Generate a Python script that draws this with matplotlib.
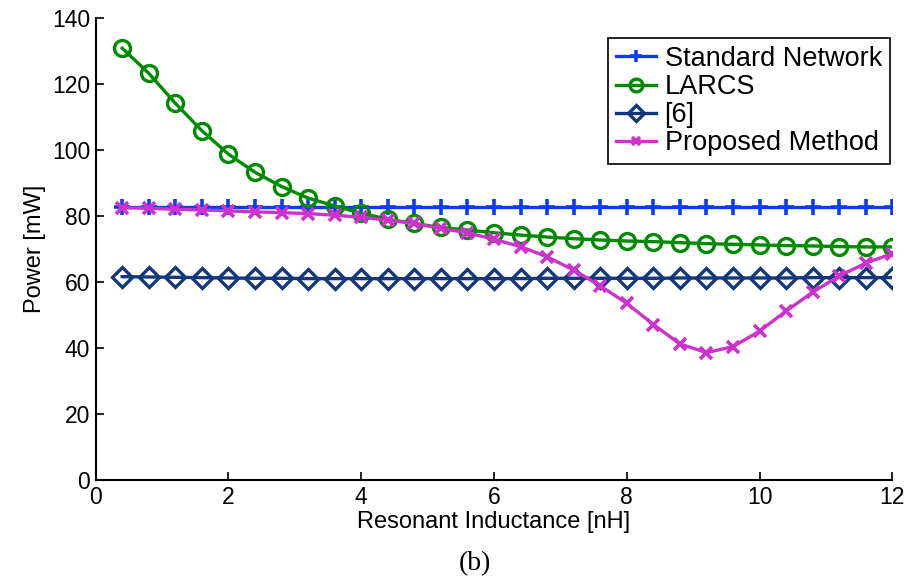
import matplotlib
matplotlib.use("Agg")
import matplotlib.pyplot as plt
import numpy as np

L = [0.4, 0.8, 1.2, 1.6, 2.0, 2.4, 2.8, 3.2, 3.6, 4.0, 4.4, 4.8, 5.2, 5.6, 6.0,
     6.4, 6.8, 7.2, 7.6, 8.0, 8.4, 8.8, 9.2, 9.6, 10.0, 10.4, 10.8, 11.2, 11.6, 12.0]
standard = [82.7] * 30
larcs = [130.8, 123.2, 114.1, 105.8, 98.7, 93.2, 88.9, 85.4, 83.0, 80.8, 79.0, 77.7,
         76.5, 75.7, 74.9, 74.2, 73.6, 73.1, 72.7, 72.4, 72.2, 71.9, 71.6, 71.4,
         71.2, 71.0, 70.9, 70.7, 70.6, 70.6]
ref6 = [61.6, 61.5, 61.4, 61.3, 61.2, 61.1, 61.1, 61.0, 61.0, 61.0, 61.0, 61.0,
        61.0, 61.0, 61.0, 61.0, 61.1, 61.1, 61.1, 61.1, 61.1, 61.2, 61.2, 61.2,
        61.2, 61.2, 61.3, 61.3, 61.3, 61.3]
proposed = [82.5, 82.3, 82.0, 81.8, 81.5, 81.2, 81.0, 80.7, 80.2, 79.6, 78.7, 77.7,
            76.2, 74.9, 72.9, 70.7, 67.6, 63.6, 58.8, 53.5, 47.1, 41.2, 38.6, 40.4,
            45.1, 51.2, 56.9, 61.8, 65.7, 68.6]
labels = ["Standard Network", "LARCS", "[6]", "Proposed Method"]
xticks = [0, 2, 4, 6, 8, 10, 12]
yticks = [0, 20, 40, 60, 80, 100, 120, 140]

plt.rcParams['font.family'] = ['Liberation Sans', 'DejaVu Sans']

fig = plt.figure(figsize=(9.2, 5.85), dpi=100)
ax = fig.add_axes([0.104, 0.1795, 0.866, 0.79])

c_std = '#0a3cf5'
c_larcs = '#008a00'
c_ref = '#12377a'
c_prop = '#cc33cc'

ax.plot(L, standard, color=c_std, lw=2.4, marker='+', ms=11, mew=2.6, label=labels[0])
ax.plot(L, larcs, color=c_larcs, lw=2.4, marker='o', ms=11.5, mew=2.4,
        mfc='none', label=labels[1])
ax.plot(L, ref6, color=c_ref, lw=2.4, marker='D', ms=10, mew=2.4,
        mfc='none', label=labels[2])
ax.plot(L, proposed, color=c_prop, lw=2.4, marker='x', ms=8, mew=2.6, label=labels[3])

ax.set_xlim(0, 12)
ax.set_ylim(0, 140)
ax.set_xticks(xticks)
ax.set_yticks(yticks)
ax.tick_params(direction='in', length=6, width=1.2, labelsize=16.5, pad=4)
for s in ['top', 'right']:
    ax.spines[s].set_visible(False)
for s in ['left', 'bottom']:
    ax.spines[s].set_linewidth(1.5)

ax.set_xlabel("Resonant Inductance [nH]", fontsize=17, labelpad=2)
ax.set_ylabel("Power [mW]", fontsize=17, labelpad=4)

leg = ax.legend(loc='upper right', bbox_to_anchor=(0.997, 0.957), fontsize=19.5,
                frameon=True, fancybox=False, edgecolor='black', framealpha=1,
                handlelength=1.5, handletextpad=0.3, borderpad=0.3,
                labelspacing=0.08, borderaxespad=0, markerscale=0.8)
leg.get_frame().set_linewidth(1.2)

fig.text(0.516, 0.037, "(b)", fontsize=20, family=['Liberation Serif'],
         ha='center', va='center')

fig.savefig("out.png", dpi=100)
